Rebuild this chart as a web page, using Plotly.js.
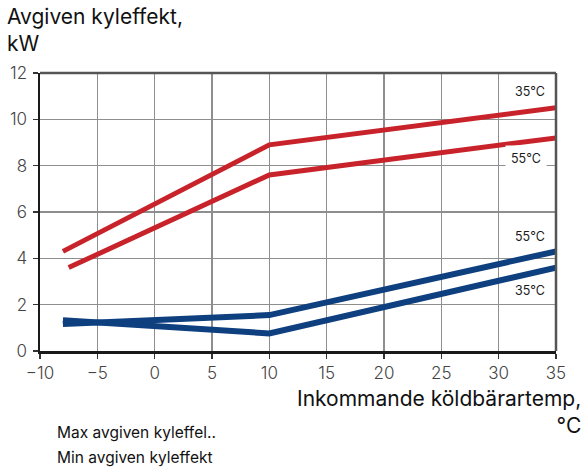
<!DOCTYPE html>
<html>
<head>
<meta charset="utf-8">
<script src="https://cdn.plot.ly/plotly-3.0.1.min.js"></script>
<style>
  html, body { margin: 0; padding: 0; background: #fff; }
  #chart { width: 584px; height: 468px; }
</style>
</head>
<body>
<div id="chart"></div>
<script>
// Incoming brine temperature (°C) and delivered cooling power (kW)
const maxTemp35 = [-8, 10, 35];
const maxPower35 = [4.3, 8.9, 10.5];
const maxTemp55 = [-7.5, 10, 35];
const maxPower55 = [3.6, 7.6, 9.2];
const minTemp55 = [-8, 10, 35];
const minPower55 = [1.17, 1.55, 4.3];
const minTemp35 = [-8, 10, 35];
const minPower35 = [1.33, 0.76, 3.6];

const xTicks = [-10, -5, 0, 5, 10, 15, 20, 25, 30, 35];
const yTicks = [0, 2, 4, 6, 8, 10, 12];

const curveLabels = ['35°C', '55°C', '55°C', '35°C'];
const legendTexts = ['Max avgiven kyleffel..', 'Min avgiven kyleffekt'];
const yTitle = 'Avgiven kyleffekt,<br>kW';
const xTitle = 'Inkommande köldbärartemp,<br>°C';

const RED = '#c8232b';
const BLUE = '#0e3f7e';
const FONT = 'Inter, Roboto, sans-serif';

const traces = [
  { x: maxTemp35, y: maxPower35, color: RED, width: 5 },
  { x: maxTemp55, y: maxPower55, color: RED, width: 5 },
  { x: minTemp55, y: minPower55, color: BLUE, width: 6 },
  { x: minTemp35, y: minPower35, color: BLUE, width: 6 }
].map(t => ({
  type: 'scatter', mode: 'lines', x: t.x, y: t.y,
  line: { color: t.color, width: t.width },
  hoverinfo: 'skip', showlegend: false, cliponaxis: false
}));

// curve labels, right-aligned near the end of each curve
const labelY = [11.2, 8.33, 4.93, 2.61];
const annotations = curveLabels.map((txt, i) => ({
  text: txt, xref: 'x', yref: 'y', x: 34.25, y: labelY[i],
  xanchor: 'right', yanchor: 'middle', showarrow: false,
  font: { family: FONT, size: 12.5, color: '#1a1a1a' },
  bgcolor: i === 1 ? '#ffffff' : 'rgba(0,0,0,0)', borderpad: i === 1 ? 5 : 1
}));

annotations.push({
  text: yTitle, xref: 'paper', yref: 'paper', x: -0.068, y: 1.255,
  xanchor: 'left', yanchor: 'top', align: 'left', showarrow: false,
  font: { family: FONT, size: 21, color: '#111' }
});
annotations.push({
  text: xTitle, xref: 'paper', yref: 'paper', x: 1.053, y: -0.118,
  xanchor: 'right', yanchor: 'top', align: 'right', showarrow: false,
  font: { family: FONT, size: 21, color: '#111' }
});
legendTexts.forEach((txt, i) => annotations.push({
  text: txt, xref: 'paper', yref: 'paper', x: 0.03, y: -0.293 - 0.09 * i,
  xanchor: 'left', yanchor: 'middle', showarrow: false,
  font: { family: FONT, size: 15.5, color: '#111' }
}));

const axisCommon = {
  showgrid: true, gridcolor: '#8e8e8e', gridwidth: 1.5,
  showline: true, linecolor: '#1a1a1a', linewidth: 2.5,
  ticks: 'outside', ticklen: 5, tickwidth: 1.2, tickcolor: '#333',
  zeroline: false, fixedrange: true,
  tickfont: { family: FONT, size: 17, color: '#444', weight: 300 }
};

const layout = {
  width: 584, height: 468,
  margin: { l: 40, r: 28, t: 73, b: 117 },
  paper_bgcolor: '#fff', plot_bgcolor: '#fff',
  xaxis: Object.assign({}, axisCommon, {
    range: [-10, 35], tickvals: xTicks, ticktext: xTicks.map(v => v < 0 ? '\u2212' + Math.abs(v) : String(v))
  }),
  yaxis: Object.assign({}, axisCommon, {
    range: [0, 12], tickvals: yTicks, ticktext: yTicks.map(String), ticklabelstandoff: 2
  }),
  shapes: [
    { type: 'line', xref: 'paper', yref: 'paper', x0: 0, x1: 1, y0: 1, y1: 1, line: { color: '#555', width: 2.5 } },
    { type: 'line', xref: 'paper', yref: 'paper', x0: 1, x1: 1, y0: 0, y1: 1, line: { color: '#555', width: 2.5 } }
  ],
  annotations: annotations,
  showlegend: false
};

Plotly.newPlot('chart', traces, layout, { displayModeBar: false, staticPlot: true });
</script>
</body>
</html>
